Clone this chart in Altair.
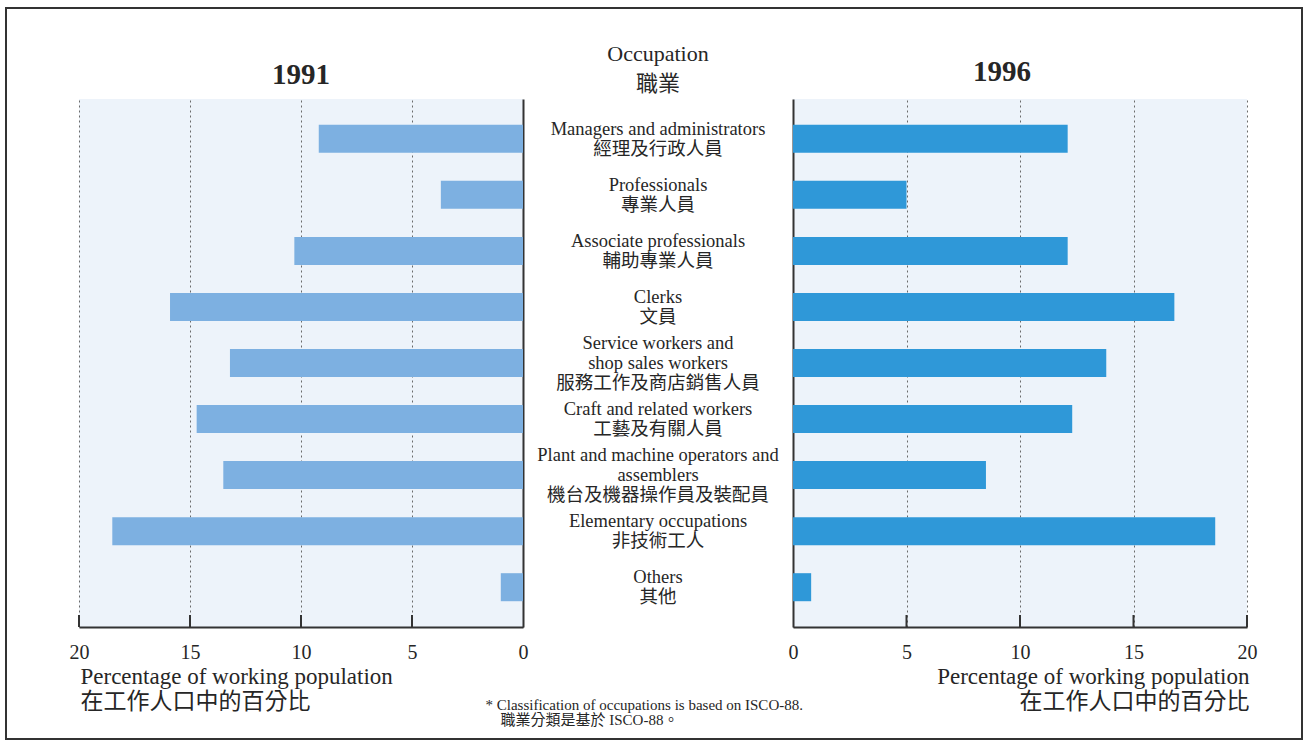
import altair as alt
import pandas as pd

# ---- data -------------------------------------------------------------
occupations_en = [
    "Managers and administrators",
    "Professionals",
    "Associate professionals",
    "Clerks",
    "Service workers and\nshop sales workers",
    "Craft and related workers",
    "Plant and machine operators and\nassemblers",
    "Elementary occupations",
    "Others",
]
occupations_zh = [
    "經理及行政人員",
    "專業人員",
    "輔助專業人員",
    "文員",
    "服務工作及商店銷售人員",
    "工藝及有關人員",
    "機台及機器操作員及裝配員",
    "非技術工人",
    "其他",
]
pct_1991 = [9.2, 3.7, 10.3, 15.9, 13.2, 14.7, 13.5, 18.5, 1.0]
pct_1996 = [12.1, 5.0, 12.1, 16.8, 13.8, 12.3, 8.5, 18.6, 0.8]
tick_values = [0, 5, 10, 15, 20]

axis_title = ["Percentage of working population", "在工作人口中的百分比"]
center_title = ["Occupation", "職業"]
footnote = [
    "* Classification of occupations is based on ISCO-88.",
    "\u200b\u00a0\u00a0\u00a0\u00a0職業分類是基於 ISCO-88。",
]

# ---- styling ----------------------------------------------------------
FONT = "Liberation Serif, Noto Sans CJK TC"
INK = "#262626"
AXIS_INK = "#333333"
GRID = "#6a6a6a"
PANEL_BG = "#edf3fa"
BAR_1991 = "#7db0e1"
BAR_1996 = "#2f98d8"

W_L, W_M, W_R, H = 444, 270, 454, 528
TICK_LEN = 12
LABEL_SIZE = 18.5
LABEL_LH = 20

keys = [e.replace("\n", " ") for e in occupations_en]
labels = [e + "\n" + z for e, z in zip(occupations_en, occupations_zh)]
df = pd.DataFrame({
    "key": keys,
    "label": labels,
    "lines": [lab.count("\n") + 1 for lab in labels],
    "p1991": pct_1991,
    "p1996": pct_1996,
    "mid": [0.5] * len(keys),
})
ticks_df = pd.DataFrame({"v": tick_values[1:]})


def band():
    return alt.Scale(type="band", paddingInner=0.5, paddingOuter=0.46)


def x_axis(title_x, title_align):
    return alt.Axis(
        values=tick_values, orient="bottom", labelFlush=False,
        grid=True, gridDash=[2, 3], gridColor=GRID, gridWidth=1,
        ticks=False, tickSize=0, labelPadding=15,
        labelFont=FONT, labelFontSize=20, labelColor=INK,
        domainColor=AXIS_INK, domainWidth=2,
        title=axis_title, titleFont=FONT, titleFontSize=23,
        titleFontWeight="normal", titleColor=INK, titleLineHeight=25,
        titleX=title_x, titleY=56, titleAlign=title_align,
        titleBaseline="alphabetic",
    )


def y_axis(orient):
    return alt.Axis(
        orient=orient, labels=False, ticks=False, grid=False,
        domainColor=AXIS_INK, domainWidth=2, title="",
    )


def year_title(text, offset, dx, dy):
    return alt.TitleParams(
        text=text, font="Liberation Serif", fontSize=29, fontWeight="bold",
        color=INK, baseline="alphabetic", offset=offset, dx=dx, dy=dy,
        anchor="middle",
    )


def panel(field, color, reverse, axis_x, y_orient, title):
    scale = alt.Scale(domain=[0, 20], reverse=reverse, nice=False)
    axis = x_axis(*axis_x)
    bars = alt.Chart(df).mark_bar(color=color).encode(
        x=alt.X(f"{field}:Q", scale=scale, axis=axis),
        y=alt.Y("key:N", sort=keys, scale=band(), axis=y_axis(y_orient)),
    )
    # short inward-pointing tick marks on the value axis
    inward = alt.Chart(ticks_df).mark_rule(color=AXIS_INK, strokeWidth=2).encode(
        x=alt.X("v:Q", scale=scale, axis=axis),
        y=alt.value(H - TICK_LEN),
        y2=alt.value(H),
    )
    return alt.layer(bars, inward).properties(
        width=W_L if reverse else W_R, height=H, title=title,
        view=alt.ViewBackground(fill=PANEL_BG, strokeWidth=0),
    )


left = panel("p1991", BAR_1991, True, (1, "left"), "right",
             year_title("1991", 13, 0, 27))
right = panel("p1996", BAR_1996, False, (W_R + 2, "right"), "left",
              year_title("1996", 16, -18, 27))

# ---- occupation labels ------------------------------------------------
foot_axis = alt.Axis(
    domain=False, ticks=False, labels=False, grid=False,
    title=footnote, titleFont=FONT, titleFontSize=15,
    titleFontWeight="normal", titleColor=INK, titleLineHeight=15,
    titleX=-38, titleY=82, titleAlign="left", titleBaseline="alphabetic",
)


def label_layer(n_lines):
    # centre each multi-line block on its band
    return alt.Chart(df).transform_filter(
        alt.datum.lines == n_lines
    ).mark_text(
        align="center", baseline="middle", lineBreak="\n",
        font=FONT, fontSize=LABEL_SIZE, lineHeight=LABEL_LH, color=INK,
        dy=-(n_lines - 1) * LABEL_LH / 2,
    ).encode(
        x=alt.X("mid:Q", scale=alt.Scale(domain=[0, 1]), axis=foot_axis),
        y=alt.Y("key:N", sort=keys, scale=band(), axis=None),
        text="label:N",
    )


middle = alt.layer(label_layer(2), label_layer(3)).properties(
    width=W_M, height=H,
    title=alt.TitleParams(
        text=center_title, font=FONT, fontSize=22, fontWeight="normal",
        color=INK, lineHeight=30, baseline="alphabetic", offset=39, dy=53,
        anchor="middle",
    ),
)

# ---- outer border around the whole figure ----------------------------
border = alt.Chart(pd.DataFrame({"f": [0]})).mark_rect(
    filled=False, color=AXIS_INK, strokeWidth=2,
).encode(
    x=alt.value(-1241), x2=alt.value(55),
    y=alt.value(-91), y2=alt.value(640),
).properties(width=1, height=H)

chart = alt.hconcat(
    left, middle, right, border, spacing=0, bounds="flush",
).resolve_scale(
    x="independent", y="independent",
).properties(
    padding={"left": 5, "top": 7, "right": 0, "bottom": 0},
    background="white",
).configure_view(strokeWidth=0)

chart.save("out.html", embed_options={"renderer": "svg", "actions": False})
